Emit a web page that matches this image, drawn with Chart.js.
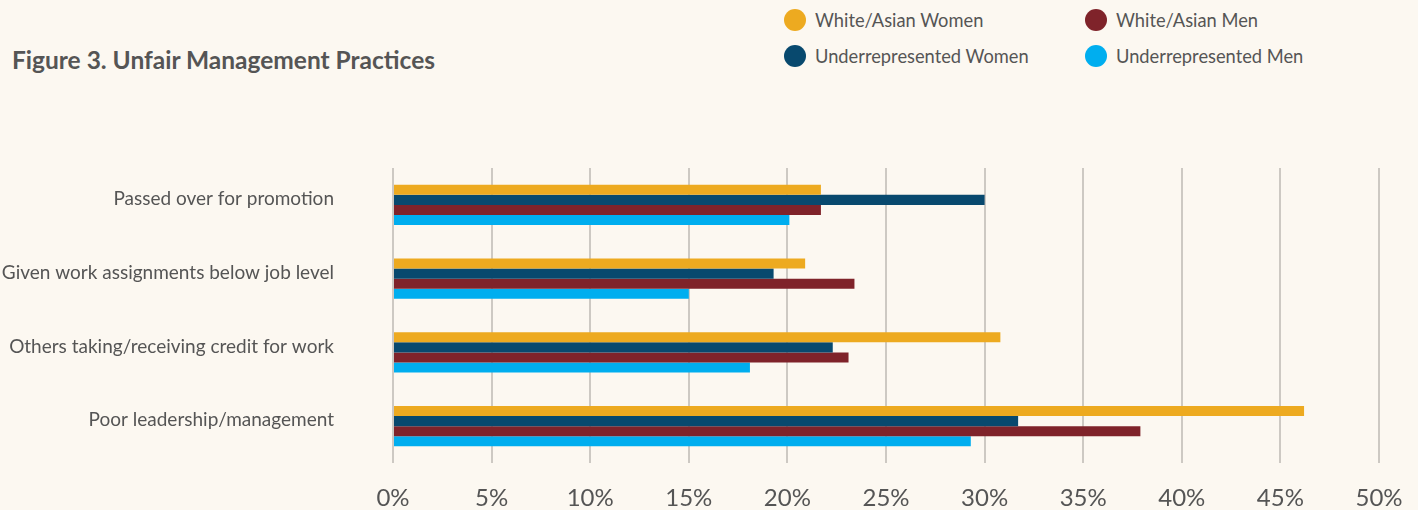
<!DOCTYPE html>
<html>
<head>
<meta charset="utf-8">
<script src="https://cdn.jsdelivr.net/npm/chart.js@4"></script>
<style>
  html, body { margin: 0; padding: 0; background: #fcf8f1; }
  body { width: 1418px; height: 510px; position: relative; overflow: hidden; font-family: Lato, "Noto Sans", sans-serif; color: #555; }
  #title { position: absolute; left: 12px; top: 45px; font-size: 24.5px; font-weight: bold; color: #555; white-space: nowrap; }
  #legend { position: absolute; left: 784px; top: 8px; display: grid; grid-template-columns: 301px 260px; row-gap: 12px; }
  .item { display: flex; align-items: center; font-size: 18.3px; white-space: nowrap; height: 24px; }
  .dot { width: 22px; height: 22px; border-radius: 50%; margin-right: 9px; flex: none; }
  #c { position: absolute; left: 0; top: 0; }
</style>
</head>
<body>
<div id="title">Figure 3. Unfair Management Practices</div>
<div id="legend"></div>
<canvas id="c" width="1418" height="510"></canvas>
<script>
const categories = [
  "Passed over for promotion",
  "Given work assignments below job level",
  "Others taking/receiving credit for work",
  "Poor leadership/management"
];
const seriesNames = ["White/Asian Women", "Underrepresented Women", "White/Asian Men", "Underrepresented Men"];
const whiteAsianWomen = [21.7, 20.9, 30.8, 46.2];
const underrepWomen   = [30.0, 19.3, 22.3, 31.7];
const whiteAsianMen   = [21.7, 23.4, 23.1, 37.9];
const underrepMen     = [20.1, 15.0, 18.1, 29.3];
const xTicks = [0, 5, 10, 15, 20, 25, 30, 35, 40, 45, 50];

const colors = ["#edaa20", "#08496e", "#7f232a", "#00aeef"];
const values = [whiteAsianWomen, underrepWomen, whiteAsianMen, underrepMen];

// legend (2 columns: row-major order WAW, WAM / URW, URM)
const legendOrder = [0, 2, 1, 3];
const lg = document.getElementById('legend');
legendOrder.forEach(i => {
  const d = document.createElement('div');
  d.className = 'item';
  d.innerHTML = '<span class="dot" style="background:' + colors[i] + '"></span>' + seriesNames[i];
  lg.appendChild(d);
});

Chart.defaults.font.family = 'Lato, "Noto Sans", sans-serif';
Chart.defaults.color = '#555';

new Chart(document.getElementById('c'), {
  type: 'bar',
  data: {
    labels: categories,
    datasets: seriesNames.map((n, i) => ({
      label: n,
      data: values[i],
      backgroundColor: colors[i],
      borderWidth: 0,
      categoryPercentage: 0.5424,
      barPercentage: 1.0
    }))
  },
  options: {
    indexAxis: 'y',
    responsive: false,
    animation: false,
    devicePixelRatio: 1,
    layout: { padding: { top: 168, right: 39, bottom: 0, left: 0 } },
    plugins: { legend: { display: false }, tooltip: { enabled: false } },
    scales: {
      x: {
        min: 0, max: 50,
        afterBuildTicks: s => { s.ticks = xTicks.map(v => ({ value: v })); },
        afterFit: s => { s.height = 47; s.paddingLeft = 0; s.paddingRight = 0; },
        ticks: {
          callback: v => v + '%',
          font: { size: 24 },
          color: '#555',
          padding: 21,
          maxRotation: 0
        },
        grid: { color: '#cdc9c3', lineWidth: 2, drawTicks: false },
        border: { display: false }
      },
      y: {
        afterFit: s => { s.width = 393; s.paddingTop = 0; s.paddingBottom = 0; },
        ticks: { font: { size: 19 }, color: '#555', padding: 59, labelOffset: -6 },
        grid: { display: false, drawTicks: false },
        border: { display: false }
      }
    }
  }
});
</script>
</body>
</html>
